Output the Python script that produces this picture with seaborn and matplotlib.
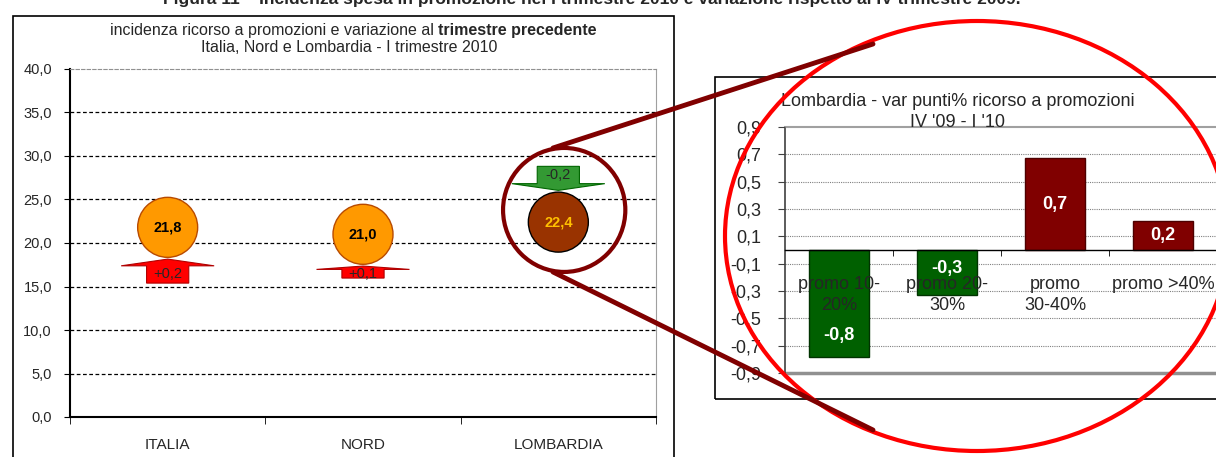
# Figura 11 - incidenza promozioni (Italia, Nord, Lombardia) + zoom Lombardia var punti%
import numpy as np
import pandas as pd
import matplotlib
matplotlib.use("Agg")
import matplotlib.pyplot as plt
from matplotlib.patches import Ellipse, Polygon, Rectangle
from matplotlib.lines import Line2D
from matplotlib.ticker import FuncFormatter
import seaborn as sns

# dati - grafico di sinistra
aree = ["ITALIA", "NORD", "LOMBARDIA"]
incidenza = [21.8, 21.0, 22.4]
variazione = [0.2, 0.1, -0.2]

# dati - grafico di destra (Lombardia, var punti%)
promo = ["promo 10-\n20%", "promo 20-\n30%", "promo\n30-40%", "promo >40%"]
var_promo = [-0.78, -0.33, 0.67, 0.21]

sns.set_style("white")
plt.rcParams['font.family'] = ['Liberation Sans', 'DejaVu Sans']

W, H = 1216, 457
fig = plt.figure(figsize=(W / 100, H / 100), dpi=100)


def fx(x):
    return x / W


def fy(y):
    return 1 - y / H


virgola = FuncFormatter(lambda v, p: f"{v:.1f}".replace('.', ','))

# titolo generale (tagliato in alto)
fig.text(fx(592), fy(4), "Figura 11 – Incidenza spesa in promozione nel I trimestre 2010 e variazione rispetto al IV trimestre 2009.",
         ha='center', va='baseline', fontsize=12.5, fontweight='bold')

# cornici
fig.add_artist(Rectangle((fx(13), fy(470)), 661 / W, 454 / H, transform=fig.transFigure,
                         fill=False, ec='black', lw=1.2, zorder=1))
fig.add_artist(Rectangle((fx(715), fy(399)), 520 / W, 322 / H, transform=fig.transFigure,
                         fill=False, ec='black', lw=1.2, zorder=1))

# ---------------- grafico di sinistra ----------------
ax1 = fig.add_axes([fx(70), 1 - 417 / H, 586 / W, 348 / H])
df = pd.DataFrame({"area": aree, "val": incidenza})
sns.scatterplot(data=df, x="area", y="val", hue="area",
                palette=["#FF9900", "#FF9900", "#993300"], s=1866,
                legend=False, ax=ax1, zorder=3)
coll = ax1.collections[0]
coll.set_edgecolors(["#B84A00", "#B84A00", "black"])
coll.set_linewidths(1)

ax1.set_xlim(-0.5, 2.5)
ax1.set_ylim(0, 40)
ax1.set_yticks(np.arange(0, 41, 5))
ax1.yaxis.set_major_formatter(virgola)
ax1.set_xlabel('')
ax1.set_ylabel('')
for yv in np.arange(5, 40, 5):
    ax1.axhline(yv, color='black', ls=(0, (3, 2)), lw=0.9, zorder=0.5)
ax1.spines['left'].set_color('black')
ax1.spines['left'].set_linewidth(1.5)
ax1.spines['bottom'].set_color('black')
ax1.spines['bottom'].set_linewidth(1.5)
ax1.spines['top'].set_color('#909090')
ax1.spines['top'].set_linestyle((0, (3, 2)))
ax1.spines['right'].set_color('#A0A0A0')
ax1.tick_params(axis='y', length=4, direction='out', color='black', labelsize=10.5, pad=9, left=True)
ax1.tick_params(axis='x', which='major', length=0, labelsize=11, pad=15)
ax1.set_xticks([-0.5, 0.5, 1.5, 2.5], minor=True)
ax1.tick_params(axis='x', which='minor', length=5, direction='out', color='black', bottom=True)

# etichette valori nei cerchi
col_txt = ["black", "black", "#FFC000"]
for i, v in enumerate(incidenza):
    ax1.text(i, v, f"{v:.1f}".replace('.', ','), ha='center', va='center',
             fontsize=10.5, fontweight='bold', color=col_txt[i], zorder=4)

# frecce variazione
r_cerchio = 3.45
sw, hw = 0.108, 0.238
for i, (v, d) in enumerate(zip(incidenza, variazione)):
    L = abs(d) * 13.8
    hh = L * 0.28
    if d > 0:
        tip = v - r_cerchio - 0.2
        base, end = tip - hh, tip - L
        fc, ec = "#FF0000", "#B00000"
        lab = "+" + f"{d:.1f}".replace('.', ',')
    else:
        tip = v + r_cerchio + 0.2
        base, end = tip + hh, tip + L
        fc, ec = "#339933", "#006600"
        lab = f"{d:.1f}".replace('.', ',')
    pts = [(i - sw, end), (i + sw, end), (i + sw, base), (i + hw, base),
           (i, tip), (i - hw, base), (i - sw, base)]
    ax1.add_patch(Polygon(pts, closed=True, fc=fc, ec=ec, lw=0.8, zorder=3))
    ax1.text(i, (base + end) / 2, lab, ha='center', va='center', fontsize=10.5, zorder=4)

# cerchio evidenziatore Lombardia
ax1.add_patch(Ellipse((2.03, incidenza[2] + 1.4), 0.626, 14.25, fill=False,
                      ec='#800000', lw=3, clip_on=False, zorder=6))

# titolo sinistra
rend = fig.canvas.get_renderer()
t1 = fig.text(0, fy(31), "incidenza ricorso a promozioni e variazione al ", fontsize=11.5, va='center')
t2 = fig.text(0, fy(31), "trimestre precedente", fontsize=11.5, fontweight='bold', va='center')
w1 = t1.get_window_extent(rend).width
w2 = t2.get_window_extent(rend).width
x0 = 353 - (w1 + w2) / 2
t1.set_x(fx(x0))
t2.set_x(fx(x0 + w1))
fig.text(fx(349), fy(48), "Italia, Nord e Lombardia - I trimestre 2010", fontsize=11.5,
         ha='center', va='center')

# ---------------- grafico di destra ----------------
ax2 = fig.add_axes([fx(785), 1 - 373 / H, 432 / W, 246 / H])
dfp = pd.DataFrame({"promo": promo, "var": var_promo})
colori = ["#006000" if v < 0 else "#800000" for v in var_promo]
sns.barplot(data=dfp, x="promo", y="var", hue="promo", palette=colori, width=0.56,
            saturation=1, legend=False, ax=ax2)
for p, v in zip(ax2.patches, var_promo):
    p.set_edgecolor("#003300" if v < 0 else "#4D0000")
    p.set_linewidth(1)
    p.set_zorder(1)

ax2.set_xlim(-0.5, 3.5)
ax2.set_ylim(-0.9, 0.9)
ticks2 = np.round(np.arange(-0.9, 0.91, 0.2), 1)
ax2.set_yticks(ticks2)
ax2.yaxis.set_major_formatter(virgola)
ax2.set_xlabel('')
ax2.set_ylabel('')
ax2.set_axisbelow(False)
ax2.xaxis.set_zorder(3)
for yv in ticks2[1:-1]:
    ax2.axhline(yv, color='#808080', ls=(0, (1, 1)), lw=0.8, zorder=0.5)
ax2.axhline(-0.9, color='#909090', lw=2.5, clip_on=False, zorder=1)
ax2.spines['bottom'].set_position(('data', 0))
ax2.spines['bottom'].set_color('black')
ax2.spines['bottom'].set_linewidth(1)
ax2.spines['left'].set_color('#404040')
ax2.spines['left'].set_linewidth(1.2)
ax2.spines['top'].set_color('#A0A0A0')
ax2.spines['top'].set_linewidth(1.5)
ax2.spines['right'].set_color('#A0A0A0')
ax2.tick_params(axis='y', length=5, direction='out', color='#404040', labelsize=13, pad=12, left=True)
ax2.tick_params(axis='x', which='major', length=0, labelsize=13, pad=19)
ax2.set_xticks([0.5, 1.5, 2.5], minor=True)
ax2.tick_params(axis='x', which='minor', length=4, direction='out', color='black', bottom=True)
for lab in ax2.get_xticklabels():
    lab.set_linespacing(1.3)
    lab.set_zorder(3)

# etichette barre (posizione interna a frazione del valore)
pos_lab = [0.8, 0.4, 0.5, 0.5]
for i, (v, f) in enumerate(zip(var_promo, pos_lab)):
    ax2.text(i, v * f, f"{v:.1f}".replace('.', ','), ha='center', va='center',
             color='white', fontsize=13, fontweight='bold', zorder=4)

# titolo destra
fig.text(fx(958), fy(102), "Lombardia - var punti% ricorso a promozioni", fontsize=13,
         ha='center', va='center')
fig.text(fx(958), fy(123), "IV '09 - I '10", fontsize=13, ha='center', va='center')

# ellisse rossa di zoom e linee di collegamento
fig.add_artist(Ellipse((fx(977), fy(236)), 504 / W, 430 / H, transform=fig.transFigure,
                       fill=False, ec='#FF0000', lw=3, zorder=7))
fig.add_artist(Line2D([fx(553), fx(873)], [fy(148), fy(44)], transform=fig.transFigure,
                      color='#800000', lw=3.5, zorder=8))
fig.add_artist(Line2D([fx(553), fx(873)], [fy(272), fy(430)], transform=fig.transFigure,
                      color='#800000', lw=3.5, zorder=8))

fig.savefig("out.png", dpi=100)
